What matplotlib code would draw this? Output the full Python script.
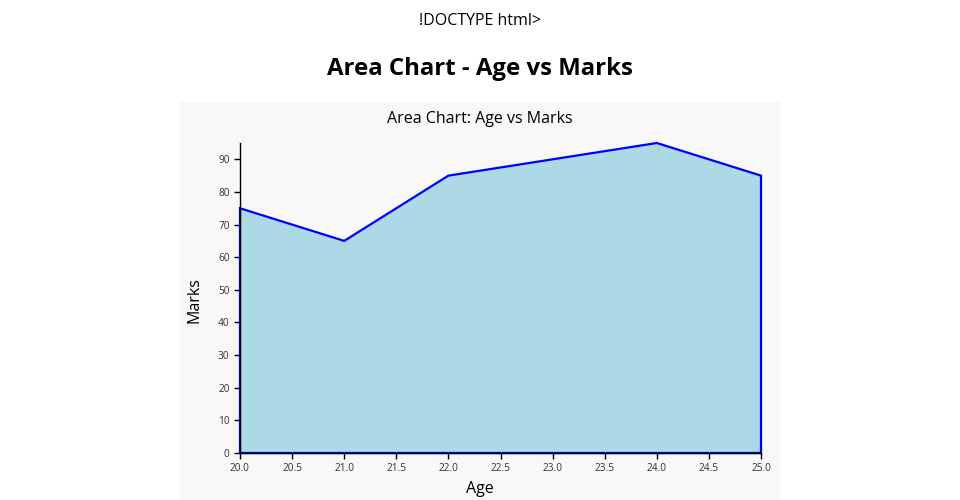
import matplotlib.pyplot as plt

# --- Data ---------------------------------------------------------------------
AGES = [20, 21, 22, 23, 24, 25]
MARKS = [75, 65, 85, 90, 95, 85]
X_TICKS = [20.0, 20.5, 21.0, 21.5, 22.0, 22.5, 23.0, 23.5, 24.0, 24.5, 25.0]
Y_TICKS = [0, 10, 20, 30, 40, 50, 60, 70, 80, 90]

plt.rcParams['font.family'] = ['Open Sans', 'DejaVu Sans']

fig = plt.figure(figsize=(9.6, 5), dpi=100)
fig.patch.set_facecolor('white')

# grey panel behind the chart
bg = fig.add_axes([180 / 960, 0, 600 / 960, 398 / 500], zorder=-1)
bg.set_facecolor('#f8f8f8')
bg.set_xticks([])
bg.set_yticks([])
for s in bg.spines.values():
    s.set_visible(False)

fig.text(0.5, 1 - 21 / 500, '!DOCTYPE html>', ha='center', va='center', fontsize=11.5)
fig.text(0.5, 1 - 69 / 500, 'Area Chart - Age vs Marks', ha='center', va='center',
         fontsize=17.3, fontweight='bold')
fig.text(0.5, 1 - 119 / 500, 'Area Chart: Age vs Marks', ha='center', va='center',
         fontsize=11.5)

ax = fig.add_axes([240 / 960, 47 / 500, 521 / 960, 310 / 500])
ax.set_facecolor('none')

# area with closed blue outline
xs = AGES + [AGES[-1], AGES[0]]
ys = MARKS + [0, 0]
ax.fill(xs, ys, facecolor='lightblue', edgecolor='blue', linewidth=1.6,
        clip_on=False, zorder=2)

ax.set_xlim(20, 25)
ax.set_ylim(0, 95)
ax.set_xticks(X_TICKS)
ax.set_xticklabels([f'{t:.1f}' for t in X_TICKS])
ax.set_yticks(Y_TICKS)
ax.tick_params(labelsize=7.3, colors='black', labelcolor='#333333', length=4, width=1)

for s in ['top', 'right']:
    ax.spines[s].set_visible(False)
for s in ['left', 'bottom']:
    ax.spines[s].set_color('black')
    ax.spines[s].set_linewidth(1)
    ax.spines[s].set_zorder(3)

fig.text(195 / 960, 1 - 300 / 500, 'Marks', rotation=90, ha='center', va='center',
         fontsize=11.5)
fig.text(480 / 960, 1 - 489 / 500, 'Age', ha='center', va='center', fontsize=11.5)

fig.savefig('out.png', dpi=100)
